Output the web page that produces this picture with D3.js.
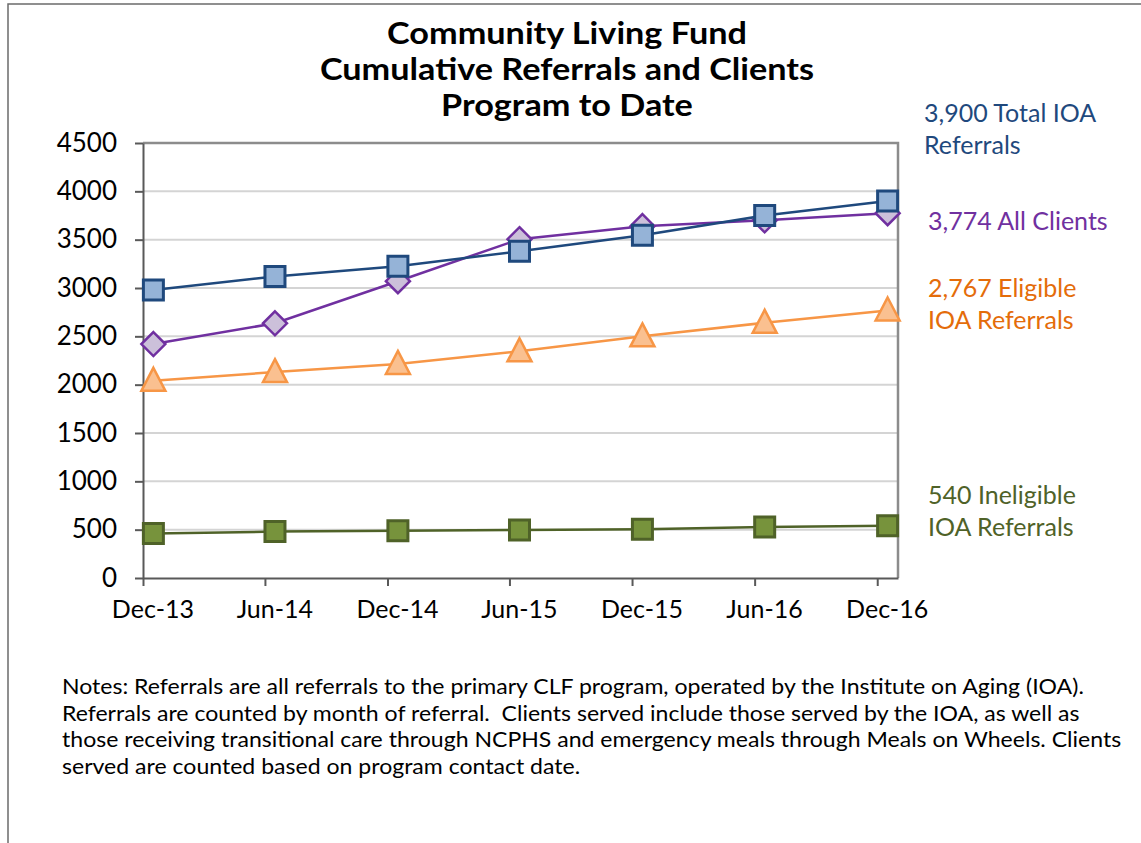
<!DOCTYPE html>
<html>
<head>
<meta charset="utf-8">
<script src="https://cdn.jsdelivr.net/npm/d3@7"></script>
<style>
  body { margin: 0; background: #fff; }
  svg { display: block; }
  svg text { font-family: "Gill Sans", "Gill Sans MT", Lato, sans-serif; }
  .axis path, .axis line { stroke: #595959; stroke-width: 2; }
  .axis text { fill: #000; }
</style>
</head>
<body>
<script>
// Chart data
var months = ["2013-12", "2014-06", "2014-12", "2015-06", "2015-12", "2016-06", "2016-12"];
var totalReferrals = [2980, 3120, 3225, 3380, 3545, 3750, 3900];
var allClients = [2420, 2635, 3070, 3505, 3640, 3700, 3774];
var eligibleReferrals = [2040, 2130, 2215, 2345, 2500, 2640, 2767];
var ineligibleReferrals = [460, 480, 490, 497, 505, 527, 540];
var yTicks = [0, 500, 1000, 1500, 2000, 2500, 3000, 3500, 4000, 4500];

var titleLines = ["Community Living Fund", "Cumulative Referrals and Clients", "Program to Date"];
var endLabels = [
  {lines: ["3,900 Total IOA", "Referrals"], color: "#1f497d", x: 924, y: 114},
  {lines: ["3,774 All Clients"], color: "#7030a0", x: 928, y: 222},
  {lines: ["2,767 Eligible", "IOA Referrals"], color: "#e46c0a", x: 928, y: 289},
  {lines: ["540 Ineligible", "IOA Referrals"], color: "#4f6228", x: 928, y: 496}
];
var notes = [
  "Notes: Referrals are all referrals to the primary CLF program, operated by the Institute on Aging (IOA).",
  "Referrals are counted by month of referral.  Clients served include those served by the IOA, as well as",
  "those receiving transitional care through NCPHS and emergency meals through Meals on Wheels. Clients",
  "served are counted based on program contact date."
];

var W = 1141, H = 843;
var plot = {left: 143, top: 143, right: 898, bottom: 578};

var svg = d3.select("body").append("svg")
    .attr("width", W)
    .attr("height", H);

// outer frame
svg.append("rect")
    .attr("x", 8).attr("y", 4)
    .attr("width", W + 10).attr("height", H + 10)
    .attr("fill", "none")
    .attr("stroke", "#6b6b6b")
    .attr("stroke-width", 1.5);

var parseMonth = d3.timeParse("%Y-%m");
var monthStarts = months.map(parseMonth);
// points sit in the middle of their month slot
var midMonth = function(d) {
  var next = d3.timeMonth.offset(d, 1);
  return new Date((d.getTime() + next.getTime()) / 2);
};

var x = d3.scaleTime()
    .domain([monthStarts[0], d3.timeMonth.offset(monthStarts[monthStarts.length - 1], 1)])
    .range([plot.left, plot.right]);

var y = d3.scaleLinear()
    .domain([0, 4500])
    .range([plot.bottom, plot.top]);

// gridlines
svg.append("g").selectAll("line").data(yTicks.slice(1)).enter()
  .append("line")
    .attr("x1", plot.left).attr("x2", plot.right)
    .attr("y1", function(d) { return y(d); })
    .attr("y2", function(d) { return y(d); })
    .attr("stroke", "#d4d4d4")
    .attr("stroke-width", 2);

// plot area frame (top + right)
svg.append("path")
    .attr("d", "M" + plot.left + "," + plot.top + "H" + plot.right + "V" + plot.bottom)
    .attr("fill", "none")
    .attr("stroke", "#8c8c8c")
    .attr("stroke-width", 2.5);

// axes
svg.append("g")
    .attr("class", "axis")
    .attr("transform", "translate(" + plot.left + ",0)")
    .call(d3.axisLeft(y).tickValues(yTicks).tickFormat(d3.format("d"))
      .tickSize(8).tickPadding(18).tickSizeOuter(0))
    .call(function(g) {
      g.attr("font-family", null);
      g.selectAll("text").style("font-size", "26px");
    });

var halfSlot = x(midMonth(monthStarts[0])) - x(monthStarts[0]);
svg.append("g")
    .attr("class", "axis")
    .attr("transform", "translate(0," + plot.bottom + ")")
    .call(d3.axisBottom(x).tickValues(monthStarts).tickSize(8).tickSizeOuter(0)
      .tickFormat(d3.timeFormat("%b-%y")))
    .call(function(g) {
      g.attr("font-family", null);
      g.selectAll("text")
        .attr("x", halfSlot - 1)
        .attr("y", 22)
        .style("font-size", "25px");
    });

// drawing order: clients under total referrals, as in the original
var series = [
  {values: allClients, line: "#7030a0", fill: "#ccc0da", stroke: "#7030a0", shape: "diamond", size: 24},
  {values: totalReferrals, line: "#1f497d", fill: "#95b3d7", stroke: "#1f497d", shape: "square", size: 20},
  {values: eligibleReferrals, line: "#f79646", fill: "#fac090", stroke: "#f79646", shape: "triangle", size: 24},
  {values: ineligibleReferrals, line: "#4f6228", fill: "#77933c", stroke: "#4f6228", shape: "square", size: 20}
];

var line = d3.line()
    .x(function(d, i) { return x(midMonth(monthStarts[i])); })
    .y(function(d) { return y(d); });

function markerPath(shape, s) {
  var h = s / 2;
  if (shape === "square") return "M" + -h + "," + -h + "H" + h + "V" + h + "H" + -h + "Z";
  if (shape === "diamond") return "M0," + -h + "L" + h + ",0L0," + h + "L" + -h + ",0Z";
  return "M0," + (-h - 1) + "L" + h + "," + (h - 2) + "L" + -h + "," + (h - 2) + "Z";
}

series.forEach(function(s) {
  var g = svg.append("g");
  g.append("path")
    .datum(s.values)
    .attr("d", line)
    .attr("fill", "none")
    .attr("stroke", s.line)
    .attr("stroke-width", 2.5);
  g.selectAll("path.marker").data(s.values).enter()
    .append("path")
      .attr("class", "marker")
      .attr("transform", function(d, i) {
        return "translate(" + x(midMonth(monthStarts[i])) + "," + y(d) + ")";
      })
      .attr("d", markerPath(s.shape, s.size))
      .attr("fill", s.fill)
      .attr("stroke", s.stroke)
      .attr("stroke-width", s.shape === "square" ? 3 : 2.5)
      .attr("stroke-linejoin", "miter");
});

// title: a bit smaller face, widened to the original's width
var titleG = svg.append("g");
titleG.selectAll("text").data(titleLines).enter()
  .append("text")
    .attr("x", 0)
    .attr("y", function(d, i) { return 44 + i * 36; })
    .attr("text-anchor", "middle")
    .style("font-size", "30px")
    .style("font-weight", "bold")
    .text(function(d) { return d; });
var titleLen = titleG.select("text").node().getComputedTextLength();
titleG.attr("transform", "translate(567,0) scale(" + (360 / titleLen) + ",1)");

// end-of-line labels
endLabels.forEach(function(l) {
  svg.append("g").selectAll("text").data(l.lines).enter()
    .append("text")
      .attr("x", l.x)
      .attr("y", function(d, i) { return l.y + 8 + i * 32; })
      .attr("fill", l.color)
      .style("font-size", "25px")
      .text(function(d) { return d; });
});

// notes: the original face is narrow, so squeeze the block horizontally
var notesG = svg.append("g");
notesG.selectAll("text").data(notes).enter()
  .append("text")
    .attr("x", 0)
    .attr("y", function(d, i) { return 694 + i * 26.7; })
    .style("font-size", "21px")
    .style("white-space", "pre")
    .text(function(d) { return d; });
var firstLen = notesG.select("text").node().getComputedTextLength();
notesG.attr("transform", "translate(62,0) scale(" + (1022 / firstLen) + ",1)");
</script>
</body>
</html>
